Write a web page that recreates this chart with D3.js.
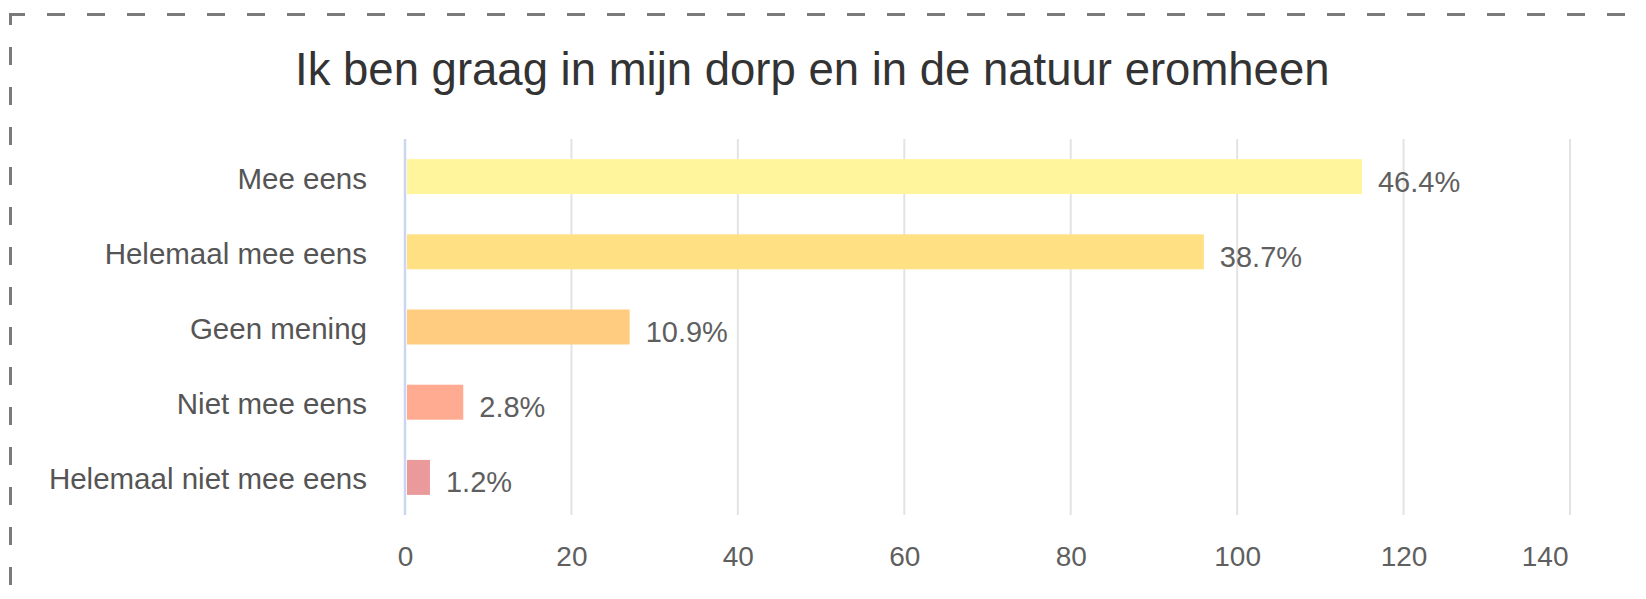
<!DOCTYPE html>
<html>
<head>
<meta charset="utf-8">
<script src="https://cdn.jsdelivr.net/npm/d3@7"></script>
<style>
  body { margin: 0; background: #fff; }
  text { font-family: Arial, "Liberation Sans", sans-serif; }
</style>
</head>
<body>
<div id="chart"></div>
<script>
// Chart data
var categories = ["Mee eens", "Helemaal mee eens", "Geen mening", "Niet mee eens", "Helemaal niet mee eens"];
var counts = [115, 96, 27, 7, 3];
var percentLabels = ["46.4%", "38.7%", "10.9%", "2.8%", "1.2%"];
var barColors = ["#fff59d", "#ffe082", "#ffcc80", "#ffab91", "#ea9a9a"];
var xTicks = [0, 20, 40, 60, 80, 100, 120, 140];
var chartTitle = "Ik ben graag in mijn dorp en in de natuur eromheen";

// SVG height and width
var svgWidth = 1646;
var svgHeight = 599;

var margin = {
  top: 139,
  right: 76,
  bottom: 84,
  left: 405
};

var width = svgWidth - margin.left - margin.right;
var height = svgHeight - margin.top - margin.bottom;

var svg = d3.select("#chart")
  .append("svg")
  .attr("width", svgWidth)
  .attr("height", svgHeight);

// Dashed frame (only top and left edges are visible)
svg.append("line")
  .attr("x1", 9).attr("y1", 14.5)
  .attr("x2", svgWidth + 10).attr("y2", 14.5)
  .attr("stroke", "#7a7a7a")
  .attr("stroke-width", 3)
  .attr("stroke-dasharray", "18,22")
  .attr("stroke-dashoffset", 2);

svg.append("line")
  .attr("x1", 10.5).attr("y1", 13)
  .attr("x2", 10.5).attr("y2", svgHeight + 10)
  .attr("stroke", "#7a7a7a")
  .attr("stroke-width", 3)
  .attr("stroke-dasharray", "18,22")
  .attr("stroke-dashoffset", 6);

// Title
svg.append("text")
  .attr("x", 295)
  .attr("y", 85)
  .attr("font-size", "45.5px")
  .attr("fill", "#333")
  .text(chartTitle);

var chartGroup = svg.append("g")
  .attr("transform", `translate(${margin.left}, ${margin.top})`);

// Scales
var xLinearScale = d3.scaleLinear()
  .domain([0, 140])
  .range([0, width]);

var yBandScale = d3.scaleBand()
  .domain(categories)
  .range([0, height])
  .paddingInner(0.535)
  .paddingOuter(0.2675);

// Vertical gridlines
chartGroup.append("g")
  .selectAll("line")
  .data(xTicks.slice(1))
  .enter()
  .append("line")
  .attr("x1", d => xLinearScale(d))
  .attr("x2", d => xLinearScale(d))
  .attr("y1", 0)
  .attr("y2", height)
  .attr("stroke", "#e3e3e3")
  .attr("stroke-width", 2);

// Bottom axis labels
var bottomAxis = d3.axisBottom(xLinearScale)
  .tickValues(xTicks)
  .tickSize(0)
  .tickPadding(0);

var xAxis = chartGroup.append("g")
  .attr("transform", `translate(0, ${height})`)
  .call(bottomAxis);

xAxis.select(".domain").remove();
xAxis.selectAll("text")
  .attr("font-size", "28px")
  .attr("font-family", "Arial, 'Liberation Sans', sans-serif")
  .attr("fill", "#5f5f5f")
  .attr("dy", null)
  .attr("y", 51);

// last label is pulled in so it ends at its gridline
xAxis.selectAll(".tick")
  .filter(d => d === xTicks[xTicks.length - 1])
  .select("text")
  .attr("text-anchor", "end")
  .attr("x", -2);

// Bars
chartGroup.selectAll("rect")
  .data(counts)
  .enter()
  .append("rect")
  .attr("x", 2)
  .attr("y", (d, i) => yBandScale(categories[i]))
  .attr("width", d => Math.max(0, xLinearScale(d) - 2))
  .attr("height", yBandScale.bandwidth())
  .attr("fill", (d, i) => barColors[i]);

// Zero baseline
chartGroup.append("line")
  .attr("x1", 0).attr("x2", 0)
  .attr("y1", 0).attr("y2", height)
  .attr("stroke", "#cbd5f1")
  .attr("stroke-width", 2.5);

// Category labels
chartGroup.selectAll(".cat-label")
  .data(categories)
  .enter()
  .append("text")
  .attr("class", "cat-label")
  .attr("x", -38)
  .attr("y", d => yBandScale(d) + yBandScale.bandwidth() / 2 + 12)
  .attr("text-anchor", "end")
  .attr("font-size", "29.5px")
  .attr("fill", "#555")
  .text(d => d);

// Percentage labels next to the bars
chartGroup.selectAll(".pct-label")
  .data(counts)
  .enter()
  .append("text")
  .attr("class", "pct-label")
  .attr("x", d => xLinearScale(d) + 16)
  .attr("y", (d, i) => yBandScale(categories[i]) + yBandScale.bandwidth() / 2 + 15)
  .attr("font-size", "29px")
  .attr("fill", "#5f5f5f")
  .text((d, i) => percentLabels[i]);
</script>
</body>
</html>
